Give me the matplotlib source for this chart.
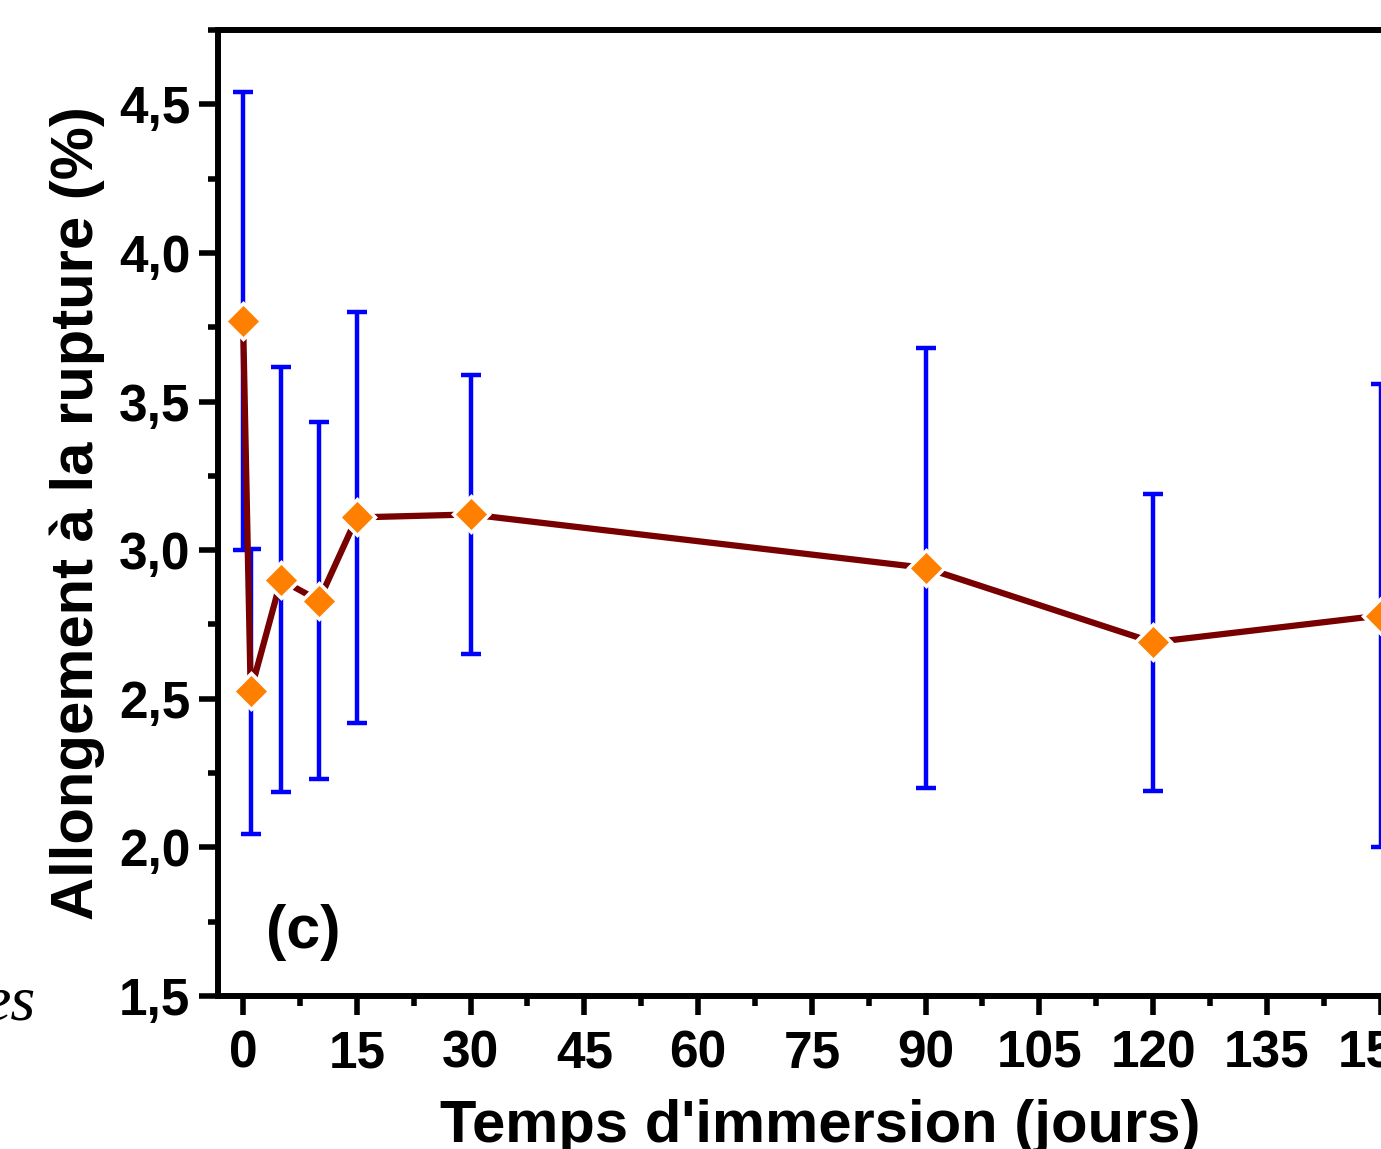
import matplotlib
matplotlib.use("Agg")
import matplotlib.pyplot as plt
from matplotlib.ticker import MultipleLocator, FuncFormatter

plt.rcParams['font.family'] = ['Liberation Sans', 'DejaVu Sans']
plt.rcParams['font.weight'] = 'bold'

# immersion time (days), elongation at break (%) and its standard deviation
jours = [0, 1, 5, 10, 15, 30, 90, 120, 150]
allongement = [3.77, 2.525, 2.90, 2.83, 3.11, 3.12, 2.94, 2.69, 2.78]
ecart = [0.77, 0.48, 0.715, 0.60, 0.69, 0.47, 0.74, 0.50, 0.78]

fig = plt.figure(figsize=(13.81, 11.49), dpi=100)
ax = fig.add_axes([0.1579, 0.1332, 0.872, 0.8407])

# error bars first, then line, then markers on top
ax.errorbar(jours, allongement, yerr=ecart, fmt='none', ecolor='#0000FF',
            elinewidth=3.2, capsize=7.5, capthick=3.2, zorder=2)
ax.plot(jours, allongement, color='#780000', linewidth=4.5, zorder=3)
ax.plot(jours, allongement, linestyle='none', marker='D', markersize=18,
        markerfacecolor='#FF8000', markeredgecolor='white', markeredgewidth=2.5,
        zorder=4, clip_on=False)

ax.set_xlim(-3.3, 155.5)
ax.set_ylim(1.5, 4.75)

ax.xaxis.set_major_locator(MultipleLocator(15))
ax.xaxis.set_minor_locator(MultipleLocator(7.5))
ax.yaxis.set_major_locator(MultipleLocator(0.5))
ax.yaxis.set_minor_locator(MultipleLocator(0.25))
ax.yaxis.set_major_formatter(FuncFormatter(lambda v, p: f"{v:.1f}".replace('.', ',')))

for s in ax.spines.values():
    s.set_linewidth(4.3)
ax.tick_params(which='major', direction='out', length=14, width=4,
               labelsize=37, pad=6)
ax.tick_params(axis='x', which='major', pad=10)
ax.tick_params(which='minor', direction='out', length=7, width=4)
ax.tick_params(top=False, right=False, which='both')

ax.set_xlabel("Temps d'immersion (jours)", fontsize=43, fontweight='bold', labelpad=15)
ax.set_ylabel("Allongement à la rupture (%)", fontsize=43, fontweight='bold', labelpad=10)

ax.text(0.04, 0.05, "(c)", transform=ax.transAxes, fontsize=44, fontweight='bold')

fig.text(35 / 1381, 1 - 1005 / 1149, "es", ha='right', va='center', fontsize=46,
         family='Liberation Serif', style='italic', fontweight='normal')

fig.savefig("out.png", dpi=100)
